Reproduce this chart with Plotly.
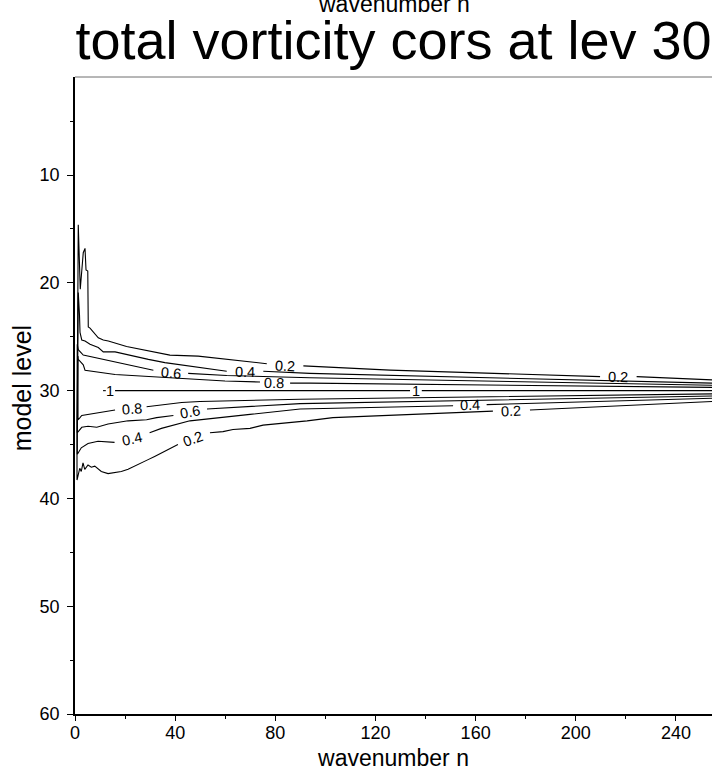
import plotly.graph_objects as go

# ---- data (wavenumber n, model level) ----
# contour 0.2 (lower branch right->left, along the n~1 edge, upper branch left->right)
C02_N = [254.4, 181.7, None, 166.9, 113.8, 103.0, 92.7, 75.1, 69.9, 63.1, 59.1, 53.9, None,
         41.1, 37.1, 34.5, 31.8, 29.2, 26.5, 23.8, 21.2, 18.5, 15.8, 13.2, 10.5, 7.9, 6.5, 5.2,
         3.9, 3.2, 2.5, 1.9, 1.2, 0.8, 0.8, 1.0, 1.0, 1.3, 2.1, 3.3, 4.0, 4.4, 5.1, 5.3, 6.0,
         7.3, 9.3, 11.3, 13.3, 20.6, 30.6, 37.9, 49.2, 60.6, 76.6, None, 91.2, 125.8, 209.7,
         None, 224.3, 254.4]
C02_L = [31.0, 31.8, None, 31.9, 32.4, 32.5, 32.8, 33.2, 33.5, 33.6, 33.8, 33.9, None,
         35.0, 35.5, 35.8, 36.1, 36.4, 36.7, 37.0, 37.3, 37.5, 37.6, 37.7, 37.5, 37.0, 37.1, 36.9,
         37.3, 36.7, 37.5, 37.2, 37.9, 38.3, 34.5, 29.0, 21.6, 14.6, 20.6, 17.2, 16.8, 18.8, 18.9, 24.1, 24.2,
         24.6, 25.1, 25.3, 25.4, 25.9, 26.4, 26.7, 26.8, 27.1, 27.5, None, 27.7, 28.1, 28.7,
         None, 28.7, 29.0]

# contour 0.4
C04_N = [254.4, 164.4, None, 151.0, 89.9, 69.9, 45.9, 34.5, 29.8, None,
         15.8, 9.2, 5.2, 2.5, 1.2, 0.9, 0.9, 1.1, 1.3, 1.8, 2.0, 2.7, 4.0, 6.0, 9.3, 11.3,
         16.0, 29.3, 35.9, 60.6, None, 75.2, 93.8, 254.4]
C04_L = [30.7, 31.3, None, 31.4, 31.7, 32.2, 32.8, 33.5, 33.9, None,
         34.8, 34.7, 34.9, 35.3, 35.8, 35.9, 32.7, 24.3, 20.9, 23.0, 24.6, 25.3, 25.4, 25.7, 26.0, 26.4,
         26.4, 27.1, 27.4, 28.2, None, 28.2, 28.4, 29.3]

# contour 0.6
C06_N = [254.4, 89.9, 52.7, None, 39.3, 32.6, 28.6, 21.2, 13.2, 8.7, 5.2, 2.7, 1.3, 0.9,
         0.9, 1.3, 3.3, 9.3, 11.3, 22.6, 31.3, None, 45.2, 60.6, 93.8, 254.4]
C06_L = [30.5, 31.2, 31.7, None, 32.3, 32.5, 32.7, 32.8, 33.1, 33.4, 33.3, 33.4, 33.8, 33.9,
         25.7, 26.2, 26.7, 27.0, 27.1, 27.6, 28.1, None, 28.4, 28.6, 28.8, 29.5]

# contour 0.8
C08_N = [254.4, 89.9, 49.9, 42.6, 28.6, None, 16.0, 11.3, 6.0, 2.7, 2.0, 1.2,
         1.2, 1.3, 3.3, 4.0, 16.0, 35.9, 59.9, 73.9, None, 85.9, 93.8, 254.4]
C08_L = [30.3, 30.8, 31.0, 31.1, 31.5, None, 31.8, 32.0, 32.2, 32.3, 32.5, 32.7,
         26.8, 27.1, 27.6, 28.1, 28.5, 28.8, 29.1, 29.2, None, 29.3, 29.3, 29.7]

# contour 1
C10_N = [11.2, 12.3, None, 16.0, 133.8, None, 138.5, 254.4]
C10_L = [30.0, 30.0, None, 30.0, 30.0, None, 30.0, 30.0]

CONTOURS = [(C02_N, C02_L), (C04_N, C04_L), (C06_N, C06_L), (C08_N, C08_L), (C10_N, C10_L)]

# contour labels
LABEL_TEXT = ["0.2", "0.2", "0.4", "0.6", "0.8", "1", "1",
              "0.8", "0.6", "0.4", "0.4", "0.2", "0.2"]
LABEL_N = [84.0, 217.0, 67.9, 38.4, 79.5, 14.1, 136.2,
           22.6, 45.9, 22.6, 157.7, 47.0, 174.3]
LABEL_L = [27.7, 28.75, 28.25, 28.35, 29.25, 30.0, 30.0,
           31.7, 32.0, 34.45, 31.35, 34.5, 31.9]
LABEL_ANGLE = [3, 1, 1, 5, 2, 0, 0, -4, -10, -12, -2, -20, -3]

X_TICK_STEP = 40
Y_TICK_STEP = 10

FONT = "Liberation Sans, Arial, Helvetica, sans-serif"

fig = go.Figure()
for cn, cl in CONTOURS:
    fig.add_trace(go.Scatter(x=cn, y=cl, mode="lines",
                             line=dict(color="black", width=1.1),
                             connectgaps=False, hoverinfo="skip", showlegend=False))

for t, n, l, a in zip(LABEL_TEXT, LABEL_N, LABEL_L, LABEL_ANGLE):
    fig.add_annotation(x=n, y=l, text=t, showarrow=False, textangle=a,
                       font=dict(family=FONT, size=14.5, color="black"),
                       xanchor="center", yanchor="middle")

# partially hidden top axis title
fig.add_annotation(xref="paper", yref="paper", x=0.5, y=1.114, text="wavenumber n",
                   showarrow=False, font=dict(family=FONT, size=23, color="black"),
                   xanchor="center", yanchor="middle")

# y axis title
fig.add_annotation(xref="paper", yref="paper", x=-0.084, y=0.512, text="model level",
                   showarrow=False, textangle=-90,
                   font=dict(family=FONT, size=25, color="black"),
                   xanchor="center", yanchor="middle")

# top frame line
fig.add_shape(type="line", xref="paper", yref="paper", x0=0, x1=1, y0=1, y1=1,
              line=dict(color="#6e6e6e", width=1))

fig.update_layout(
    width=712, height=771,
    margin=dict(l=75, r=0, t=77, b=57),
    paper_bgcolor="white", plot_bgcolor="white",
    font=dict(family=FONT, color="black"),
    title=dict(text="total vorticity cors at lev 30", xref="paper", x=0.5, xanchor="center",
               yref="container", y=0.948, yanchor="middle",
               font=dict(family=FONT, size=54, color="black")),
    xaxis=dict(range=[0, 254.4], tick0=0, dtick=X_TICK_STEP, ticks="outside", ticklen=5,
               tickwidth=1, tickcolor="black", showline=True, linewidth=2, linecolor="black",
               showgrid=False, zeroline=False, automargin=False, ticklabelstandoff=-4,
               tickfont=dict(family=FONT, size=18, color="black"),
               minor=dict(dtick=20, ticks="outside", ticklen=3, tickcolor="black", showgrid=False),
               title=dict(text="wavenumber n", standoff=12,
                          font=dict(family=FONT, size=23, color="black"))),
    yaxis=dict(range=[60, 0.9], tick0=0, dtick=Y_TICK_STEP, ticks="outside", ticklen=6,
               tickwidth=1, tickcolor="black", showline=True, linewidth=1.5, linecolor="black",
               showgrid=False, zeroline=False, automargin=False, ticklabelstandoff=4,
               tickfont=dict(family=FONT, size=18, color="black"),
               minor=dict(dtick=5, ticks="outside", ticklen=3, tickcolor="black", showgrid=False)),
)

fig.write_html("out.html")
